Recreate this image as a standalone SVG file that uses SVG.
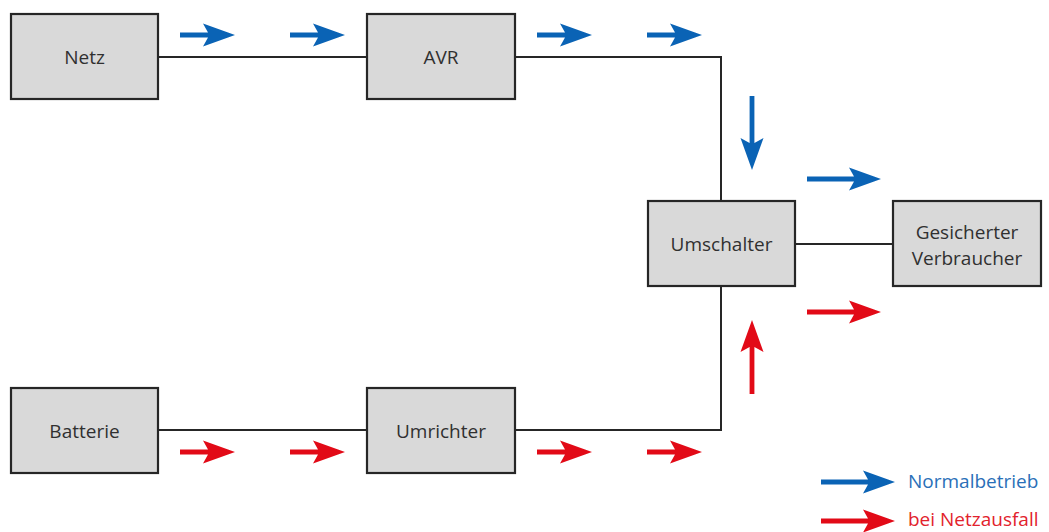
<svg xmlns="http://www.w3.org/2000/svg" xmlns:xlink="http://www.w3.org/1999/xlink" width="1049" height="532" viewBox="0 0 1049 532">
<style>
.box{fill:#d9d9d9;stroke:#262626;stroke-width:2.2}
.lbl{font-family:"Open Sans","Liberation Sans",sans-serif;font-size:19px;fill:#303030;text-anchor:middle}
.wire{fill:none;stroke:#262626;stroke-width:2}
.blue{fill:#0a63b5}
.red{fill:#e20a17}
.leg{font-family:"Open Sans","Liberation Sans",sans-serif;font-size:19px}
</style>
<defs>
<path id="sa" d="M0,-2.4 H28 L23,-11.5 L55,0 L23,11.5 L28,2.4 H0 Z"/>
<path id="la" d="M0,-2.4 H47 L42,-11.5 L74,0 L42,11.5 L47,2.4 H0 Z"/>
</defs>
<g id="connectors">
<path class="wire" d="M158,57 H367"/>
<path class="wire" d="M515,57 H721 V201"/>
<path class="wire" d="M158,430 H367"/>
<path class="wire" d="M515,430 H721 V286"/>
<path class="wire" d="M795,244 H893"/>
</g>
<g id="arrows">
<use href="#sa" class="blue" transform="translate(180,35)"/>
<use href="#sa" class="blue" transform="translate(290,35)"/>
<use href="#sa" class="blue" transform="translate(537,35)"/>
<use href="#sa" class="blue" transform="translate(647,35)"/>
<use href="#la" class="blue" transform="translate(752,96) rotate(90)"/>
<use href="#la" class="blue" transform="translate(807,179)"/>
<use href="#la" class="red" transform="translate(807,312)"/>
<use href="#la" class="red" transform="translate(752,394) rotate(-90)"/>
<use href="#sa" class="red" transform="translate(180,452)"/>
<use href="#sa" class="red" transform="translate(290,452)"/>
<use href="#sa" class="red" transform="translate(537,452)"/>
<use href="#sa" class="red" transform="translate(647,452)"/>
</g>
<g id="netz"><rect class="box" x="11" y="14" width="147" height="85"/><text class="lbl" x="84.5" y="64">Netz</text></g>
<g id="avr"><rect class="box" x="367" y="14" width="148" height="85"/><text class="lbl" x="441" y="64">AVR</text></g>
<g id="batterie"><rect class="box" x="11" y="388" width="147" height="85"/><text class="lbl" x="84.5" y="438">Batterie</text></g>
<g id="umrichter"><rect class="box" x="367" y="388" width="148" height="85"/><text class="lbl" x="441" y="438">Umrichter</text></g>
<g id="umschalter"><rect class="box" x="648" y="201" width="147" height="85"/><text class="lbl" x="721.5" y="251">Umschalter</text></g>
<g id="verbraucher"><rect class="box" x="893" y="201" width="148" height="85"/><text class="lbl" x="967" y="239">Gesicherter</text><text class="lbl" x="967" y="265">Verbraucher</text></g>
<g id="legend">
<use href="#la" class="blue" transform="translate(821,482)"/>
<text class="leg" x="908" y="488" fill="#2a6fb8">Normalbetrieb</text>
<use href="#la" class="red" transform="translate(821,521)"/>
<text class="leg" x="908" y="526" fill="#e2222c">bei Netzausfall</text>
</g>
</svg>
